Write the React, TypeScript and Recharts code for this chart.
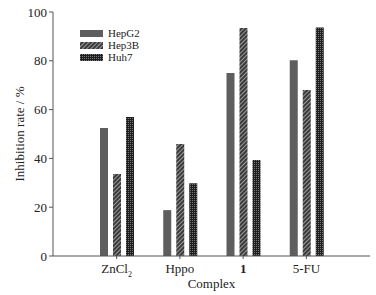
import React from "react";
import { BarChart, Bar, XAxis, YAxis } from "recharts";

const complexes = ["ZnCl2", "Hppo", "1", "5-FU"];
const hepG2 = [52.5, 18.8, 75, 80.2];
const hep3B = [33.6, 45.9, 93.4, 68];
const huh7 = [57, 29.8, 39.3, 93.6];
const yTicks = [0, 20, 40, 60, 80, 100];

const data = complexes.map((name, i) => ({
  name,
  HepG2: hepG2[i],
  Hep3B: hep3B[i],
  Huh7: huh7[i],
}));

const FONT = "'Liberation Serif', 'DejaVu Serif', serif";
const AXIS = "#555";

const series = [
  { key: "HepG2", fill: "#5e5e5e" },
  { key: "Hep3B", fill: "url(#hatch)" },
  { key: "Huh7", fill: "url(#cross)" },
];

function XTick({ x, y, payload }: any) {
  const v = payload.value;
  return (
    <text x={x} y={y + 12} textAnchor="middle" fontFamily={FONT} fontSize={13} fill="#222">
      {v === "ZnCl2" ? (
        <>
          ZnCl<tspan fontSize={8} dy={4}>2</tspan>
        </>
      ) : v === "1" ? (
        <tspan fontWeight="bold">1</tspan>
      ) : (
        v
      )}
    </text>
  );
}

function LegendBox() {
  return (
    <div style={{ position: "absolute", left: 80, top: 27, fontFamily: FONT, fontSize: 11, color: "#222", lineHeight: "12px" }}>
      {series.map((s) => (
        <div key={s.key} style={{ display: "flex", alignItems: "center", height: 12 }}>
          <svg width={23} height={7} style={{ marginRight: 5 }}>
            <rect width={23} height={7} fill={s.fill} />
          </svg>
          {s.key}
        </div>
      ))}
    </div>
  );
}

export default function App() {
  return (
    <div style={{ position: "fixed", left: 0, top: 0, width: 376, height: 295, background: "#fff" }}>
      <svg width={0} height={0} style={{ position: "absolute" }}>
        <defs>
          <pattern id="hatch" width={3} height={3} patternUnits="userSpaceOnUse" patternTransform="rotate(45)">
            <rect width={3} height={3} fill="#3a3a3a" />
            <rect width={1} height={3} fill="#9a9a9a" />
          </pattern>
          <pattern id="cross" width={2} height={2} patternUnits="userSpaceOnUse">
            <rect width={2} height={2} fill="#1e1e1e" />
            <rect width={1} height={1} fill="#777" />
          </pattern>
        </defs>
      </svg>
      <BarChart
        width={376}
        height={295}
        data={data}
        margin={{ top: 12, right: 6, bottom: 0, left: 0 }}
        barSize={8}
        barGap={5}
      >
        <XAxis
          dataKey="name"
          height={39}
          padding={{ left: 32, right: 32 }}
          stroke={AXIS}
          tickSize={3}
          tick={<XTick />}
          label={{ value: "Complex", position: "insideBottom", offset: 7, fontFamily: FONT, fontSize: 13, fill: "#222" }}
        />
        <YAxis
          width={53}
          domain={[0, 100]}
          ticks={yTicks}
          stroke={AXIS}
          tickSize={4}
          tick={{ fontFamily: FONT, fontSize: 13, fill: "#222" }}
          label={{
            value: "Inhibition rate / %",
            angle: -90,
            position: "insideLeft",
            offset: 19,
            style: { textAnchor: "middle", fontFamily: FONT, fontSize: 13, fill: "#222" },
          }}
        />
        {series.map((s) => (
          <Bar key={s.key} dataKey={s.key} fill={s.fill} isAnimationActive={false} />
        ))}
      </BarChart>
      <LegendBox />
    </div>
  );
}
